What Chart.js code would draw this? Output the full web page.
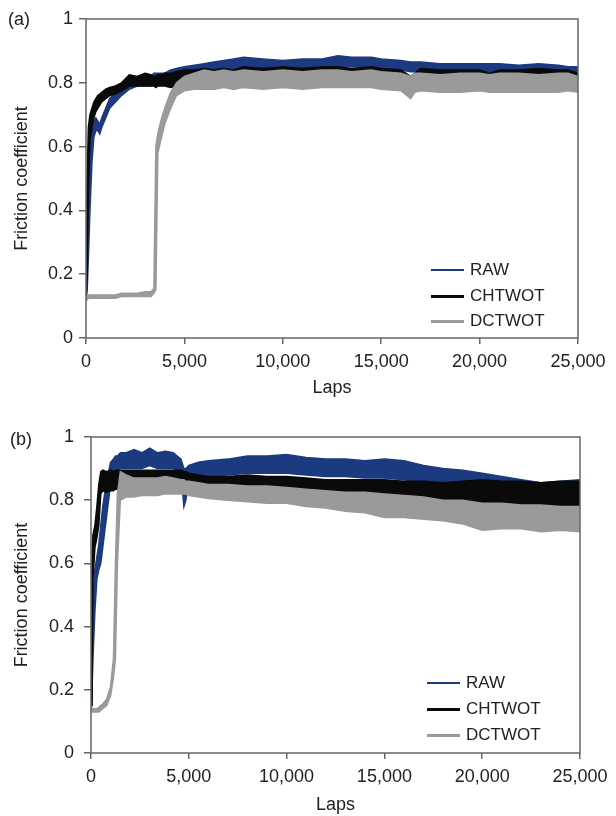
<!DOCTYPE html>
<html><head><meta charset="utf-8">
<script src="https://cdn.jsdelivr.net/npm/chart.js@4.4.1/dist/chart.umd.min.js"></script>
<style>
body{margin:0;background:#fff;width:616px;height:816px;position:relative;overflow:hidden;font-family:"Liberation Sans",Arial,sans-serif;color:#222}
canvas{position:absolute;left:0}
.lbl{position:absolute;font-size:18px;line-height:20px}
.row{position:absolute;height:20px;display:flex;align-items:center;white-space:nowrap;font-size:17px}
.ln{display:inline-block;width:33px;margin-right:6px}
</style></head><body>
<canvas id="ca" width="616" height="408" style="top:0"></canvas>
<canvas id="cb" width="616" height="408" style="top:408px"></canvas>
<div class="lbl" style="left:8px;top:9px">(a)</div>
<div class="lbl" style="left:10px;top:429px">(b)</div>
<script>
// ---------- data ----------
const seriesNames = ['RAW', 'CHTWOT', 'DCTWOT'];
const xTicks = [0, 5000, 10000, 15000, 20000, 25000];
const yTicks = [0, 0.2, 0.4, 0.6, 0.8, 1];

// panel (a): laps and upper / lower envelope of each noisy trace
const lapsA = [0,60,120,200,300,400,500,600,700,800,1000,1200,1500,1800,2200,2600,3000,3300,3450,3550,3650,3800,4000,4300,4600,5000,5500,6000,6500,7000,7500,8000,9000,10000,11000,12000,12800,13500,14500,15000,16000,16500,16700,17000,18000,19000,20000,20500,21000,22000,23000,24000,24500,25000];
const rawAHi = [0.14,0.25,0.42,0.60,0.66,0.68,0.69,0.68,0.67,0.69,0.72,0.75,0.77,0.79,0.81,0.82,0.82,0.82,0.83,0.83,0.83,0.83,0.83,0.84,0.845,0.85,0.855,0.86,0.865,0.87,0.875,0.88,0.875,0.87,0.875,0.875,0.885,0.88,0.88,0.875,0.87,0.865,0.865,0.865,0.86,0.86,0.86,0.86,0.86,0.855,0.86,0.855,0.85,0.85];
const rawALo = [0.12,0.15,0.25,0.40,0.55,0.63,0.65,0.65,0.64,0.66,0.69,0.72,0.74,0.76,0.78,0.79,0.79,0.79,0.80,0.80,0.80,0.80,0.80,0.80,0.81,0.82,0.825,0.83,0.835,0.84,0.84,0.845,0.845,0.84,0.845,0.845,0.85,0.85,0.85,0.845,0.84,0.835,0.835,0.835,0.835,0.835,0.835,0.835,0.835,0.83,0.835,0.83,0.83,0.82];
const chtAHi = [0.16,0.50,0.66,0.70,0.72,0.74,0.75,0.76,0.765,0.77,0.78,0.785,0.79,0.80,0.825,0.82,0.83,0.825,0.82,0.82,0.825,0.825,0.83,0.83,0.835,0.84,0.84,0.845,0.84,0.845,0.84,0.85,0.845,0.85,0.845,0.85,0.85,0.845,0.85,0.845,0.84,0.82,0.83,0.845,0.84,0.84,0.84,0.83,0.84,0.84,0.845,0.84,0.84,0.83];
const chtALo = [0.12,0.20,0.45,0.62,0.66,0.69,0.71,0.72,0.73,0.74,0.75,0.76,0.765,0.775,0.79,0.79,0.79,0.79,0.79,0.785,0.79,0.79,0.79,0.785,0.79,0.79,0.785,0.79,0.78,0.79,0.78,0.79,0.79,0.795,0.79,0.79,0.795,0.79,0.795,0.79,0.79,0.79,0.79,0.78,0.78,0.78,0.79,0.785,0.78,0.78,0.78,0.78,0.78,0.78];
const dctAHi = [0.13,0.13,0.135,0.135,0.135,0.135,0.135,0.135,0.135,0.135,0.135,0.135,0.135,0.14,0.14,0.14,0.145,0.145,0.155,0.60,0.64,0.68,0.72,0.77,0.80,0.82,0.83,0.84,0.835,0.84,0.835,0.84,0.835,0.84,0.835,0.84,0.84,0.835,0.84,0.835,0.83,0.82,0.83,0.83,0.825,0.83,0.83,0.825,0.83,0.83,0.825,0.83,0.83,0.82];
const dctALo = [0.115,0.12,0.125,0.125,0.125,0.125,0.125,0.125,0.125,0.125,0.125,0.125,0.125,0.13,0.13,0.13,0.13,0.13,0.14,0.15,0.58,0.62,0.67,0.72,0.76,0.775,0.78,0.78,0.78,0.785,0.78,0.785,0.78,0.785,0.78,0.785,0.785,0.785,0.785,0.78,0.775,0.75,0.77,0.775,0.77,0.77,0.775,0.77,0.77,0.77,0.77,0.77,0.775,0.77];

// panel (b)
const lapsB = [0,50,100,200,300,400,500,600,800,1000,1150,1250,1350,1500,1800,2200,2600,3000,3400,3800,4200,4600,4750,4850,5000,5500,6000,7000,8000,9000,10000,11000,12000,13000,14000,15000,16000,17000,18000,19000,20000,21000,22000,23000,24000,25000];
const rawBHi = [0.17,0.35,0.50,0.58,0.62,0.66,0.72,0.78,0.86,0.92,0.93,0.94,0.94,0.95,0.95,0.96,0.95,0.965,0.95,0.955,0.95,0.93,0.90,0.90,0.91,0.92,0.925,0.93,0.94,0.94,0.945,0.935,0.93,0.93,0.925,0.93,0.925,0.91,0.90,0.895,0.885,0.875,0.865,0.855,0.86,0.865];
const rawBLo = [0.15,0.20,0.30,0.45,0.55,0.58,0.60,0.65,0.75,0.85,0.88,0.89,0.89,0.90,0.90,0.90,0.90,0.91,0.90,0.90,0.90,0.89,0.78,0.80,0.87,0.87,0.875,0.88,0.885,0.885,0.885,0.88,0.875,0.875,0.87,0.87,0.865,0.855,0.85,0.84,0.835,0.83,0.825,0.82,0.82,0.82];
const chtBHi = [0.18,0.60,0.69,0.72,0.78,0.85,0.89,0.895,0.89,0.895,0.89,0.895,0.895,0.895,0.895,0.895,0.895,0.895,0.895,0.895,0.895,0.895,0.89,0.89,0.885,0.88,0.875,0.875,0.88,0.875,0.875,0.87,0.865,0.865,0.865,0.865,0.86,0.86,0.855,0.86,0.865,0.86,0.86,0.855,0.86,0.86];
const chtBLo = [0.15,0.25,0.55,0.65,0.68,0.72,0.82,0.83,0.825,0.83,0.83,0.835,0.835,0.835,0.835,0.835,0.835,0.835,0.835,0.835,0.835,0.835,0.84,0.84,0.84,0.835,0.83,0.80,0.80,0.80,0.80,0.79,0.82,0.82,0.82,0.81,0.80,0.79,0.79,0.78,0.775,0.77,0.775,0.78,0.78,0.78];
const dctBHi = [0.145,0.14,0.14,0.14,0.14,0.145,0.15,0.155,0.17,0.21,0.30,0.60,0.82,0.89,0.88,0.87,0.87,0.87,0.87,0.875,0.87,0.865,0.865,0.86,0.86,0.855,0.85,0.85,0.845,0.845,0.84,0.835,0.83,0.825,0.825,0.82,0.815,0.81,0.80,0.80,0.79,0.79,0.785,0.785,0.78,0.78];
const dctBLo = [0.13,0.13,0.13,0.13,0.13,0.13,0.135,0.14,0.15,0.18,0.24,0.30,0.60,0.80,0.81,0.81,0.815,0.815,0.815,0.82,0.82,0.82,0.82,0.82,0.815,0.81,0.805,0.80,0.795,0.79,0.79,0.78,0.775,0.765,0.76,0.745,0.745,0.74,0.735,0.725,0.705,0.71,0.71,0.70,0.705,0.70];

// ---------- styling ----------
const colors = ['#1b3a80', '#0a0a0a', '#9a9a9a'];
const legendWidths = [2, 3, 3];
const FONT = '"Liberation Sans", Arial, sans-serif';

function pts(xs, ys) { return xs.map((x, i) => ({x, y: ys[i]})); }

function bandSets(xs, pairs) {
  const out = [];
  pairs.forEach((p, i) => {
    const order = 3 - i; // later series drawn on top
    out.push({label: seriesNames[i], data: pts(xs, p[0]), borderColor: colors[i], backgroundColor: colors[i],
      borderWidth: 1.5, pointRadius: 0, fill: '+1', order});
    out.push({label: seriesNames[i] + ' low', data: pts(xs, p[1]), borderColor: colors[i], backgroundColor: colors[i],
      borderWidth: 1.5, pointRadius: 0, fill: false, order});
  });
  return out;
}

const frame = {
  id: 'frame',
  afterDraw(chart) {
    const {ctx, chartArea: a} = chart;
    ctx.save();
    ctx.strokeStyle = '#666';
    ctx.lineWidth = 1.5;
    ctx.strokeRect(a.left, a.top, a.right - a.left, a.bottom - a.top);
    ctx.restore();
  }
};

function makeChart(id, xs, pairs, g) {
  new Chart(document.getElementById(id), {
    type: 'line',
    data: {datasets: bandSets(xs, pairs)},
    options: {
      responsive: false, animation: false, events: [],
      layout: {padding: {left: 0, top: g.top, right: g.right, bottom: 0}},
      plugins: {legend: {display: false}, tooltip: {enabled: false}},
      scales: {
        x: {
          type: 'linear', min: 0, max: 25000,
          afterBuildTicks: s => { s.ticks = xTicks.map(v => ({value: v})); },
          afterFit: s => { s.height = g.xh; },
          border: {display: false},
          grid: {drawOnChartArea: false, drawTicks: true, tickLength: 6, color: '#666', lineWidth: 1.5},
          ticks: {color: '#222', font: {family: FONT, size: 18}, padding: 7, maxRotation: 0,
            callback: v => v.toLocaleString('en-US')},
          title: {display: true, text: 'Laps', color: '#222', font: {family: FONT, size: 18}, padding: {top: 0, bottom: g.xtPad}}
        },
        y: {
          min: 0, max: 1,
          afterBuildTicks: s => { s.ticks = yTicks.map(v => ({value: v})); },
          afterFit: s => { s.width = g.yw; },
          border: {display: false},
          grid: {drawOnChartArea: false, drawTicks: true, tickLength: 7, color: '#666', lineWidth: 1.5},
          ticks: {color: '#222', font: {family: FONT, size: 18}, padding: g.ytPad,
            callback: v => (v === 0 || v === 1) ? String(v) : v.toFixed(1)},
          title: {display: true, text: 'Friction coefficient', color: '#222', font: {family: FONT, size: 18}, padding: {top: 11, bottom: 0}}
        }
      }
    },
    plugins: [frame]
  });
}

makeChart('ca', lapsA, [[rawAHi, rawALo], [chtAHi, chtALo], [dctAHi, dctALo]],
  {top: 19, right: 38, xh: 70, yw: 86, xtPad: 9, ytPad: 6});
makeChart('cb', lapsB, [[rawBHi, rawBLo], [chtBHi, chtBLo], [dctBHi, dctBLo]],
  {top: 29, right: 36, xh: 63, yw: 91, xtPad: 0, ytPad: 10});

// legends (inside plot, lower right)
function legend(left, tops) {
  seriesNames.forEach((n, i) => {
    const r = document.createElement('div');
    r.className = 'row';
    r.style.left = left + 'px';
    r.style.top = (tops[i] - 10) + 'px';
    r.innerHTML = '<span class="ln" style="height:' + legendWidths[i] + 'px;background:' + colors[i] + '"></span>' + n;
    document.body.appendChild(r);
  });
}
legend(431, [270, 296, 321]);
legend(427, [683, 709, 735]);
</script>
</body></html>
